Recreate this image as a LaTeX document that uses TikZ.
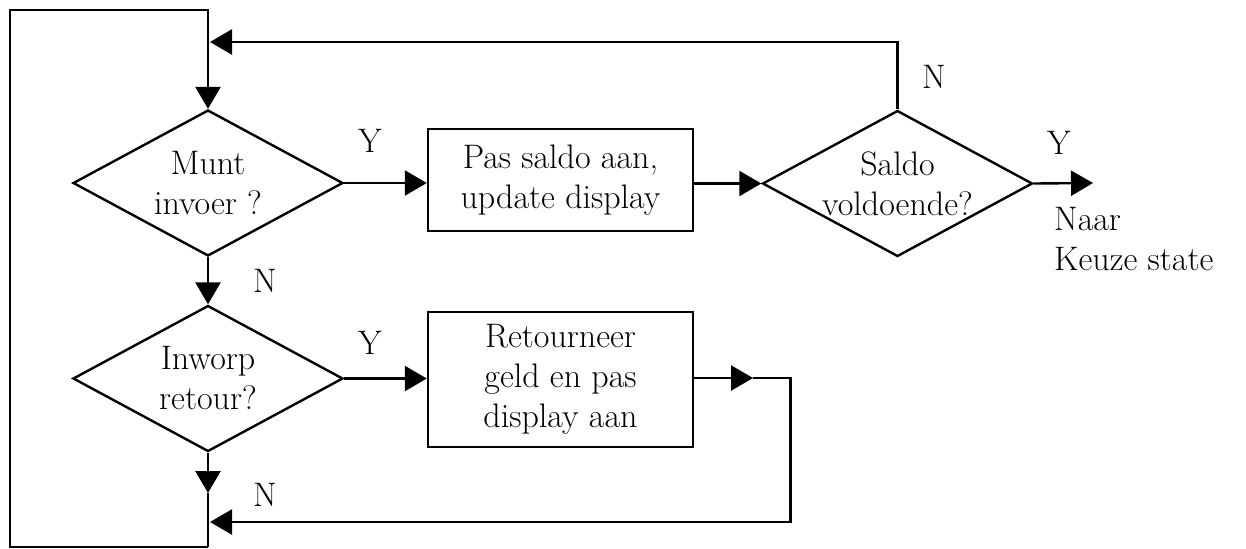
\documentclass[tikz,border=0pt]{standalone}
\usetikzlibrary{shapes.geometric,arrows.meta}
\begin{document}
\begin{tikzpicture}[x=0.5pt,y=-0.5pt,
  line width=1.2pt, line join=miter,
  every node/.style={font=\fontsize{17}{20}\selectfont, text=black},
  dec/.style={draw, diamond, minimum width=135pt, minimum height=73pt, inner sep=0pt},
  procbox/.style={draw, rectangle, minimum width=132.5pt, inner sep=0pt, align=center},
  txt/.style={align=center, inner sep=0pt},
  lbl/.style={inner sep=0pt},
  arr/.style={-{Triangle[length=11pt,width=12.5pt]}}
]
\useasboundingbox (0,0) rectangle (1246,548);

% decisions
\node[dec] (munt) at (208,183) {};
\node[txt] at (munt.center) {Munt\\invoer ?};
\node[dec] (inworp) at (208,378.5) {};
\node[txt] at (inworp.center) {Inworp\\retour?};
\node[dec] (saldo) at (897.5,183.5) {};
\node[txt] at (saldo.center) {Saldo\\voldoende?};

% process boxes
\node[procbox, minimum height=51pt] (pas) at (560.5,180) {Pas saldo aan,\\update display};
\node[procbox, minimum height=67.5pt] (ret) at (560.5,379.5) {Retourneer\\geld en pas\\display aan};

% coordinates
\coordinate (tl) at (10,10);
\coordinate (tr) at (208,10);
\coordinate (bl) at (10,547);
\coordinate (br) at (208,547);
\coordinate (j1) at (208,493);
\coordinate (j2) at (210,522);
\coordinate (j3) at (210,42);
\coordinate (s1) at (897.5,42);
\coordinate (r1) at (753,378);
\coordinate (r2) at (790.5,378);
\coordinate (r3) at (790.5,522);
\coordinate (out) at (1093,183);

% connectors
\draw[arr] (br) -- (bl) -- (tl) -- (tr) -- (munt.north);
\draw[arr] (saldo.north) -- (s1) -- (j3);
\draw[arr] (munt.south) -- (inworp.north);
\draw[arr] (inworp.south) -- (j1);
\draw (j1) -- (br);
\draw[arr] (ret.east |- r1) -- (r1);
\draw[arr] (r1) -- (r2) -- (r3) -- (j2);
\draw[arr] (munt.east) -- (pas.west |- munt.east);
\draw[arr] (inworp.east) -- (ret.west |- inworp.east);
\draw[arr] (pas.east |- saldo.west) -- (saldo.west);
\draw[arr] (saldo.east) -- (out);

% labels
\node[lbl] (y1) at (370,141) {Y};
\node[lbl] (n1) at (934,77) {N};
\node[lbl] (y2) at (1059,143) {Y};
\node[lbl] (n2) at (265,281) {N};
\node[lbl] (y3) at (370,343) {Y};
\node[lbl] (n3) at (265,495) {N};
\node[lbl, align=left, anchor=north west] (naar) at (1053,206) {Naar\\Keuze state};
\end{tikzpicture}
\end{document}
